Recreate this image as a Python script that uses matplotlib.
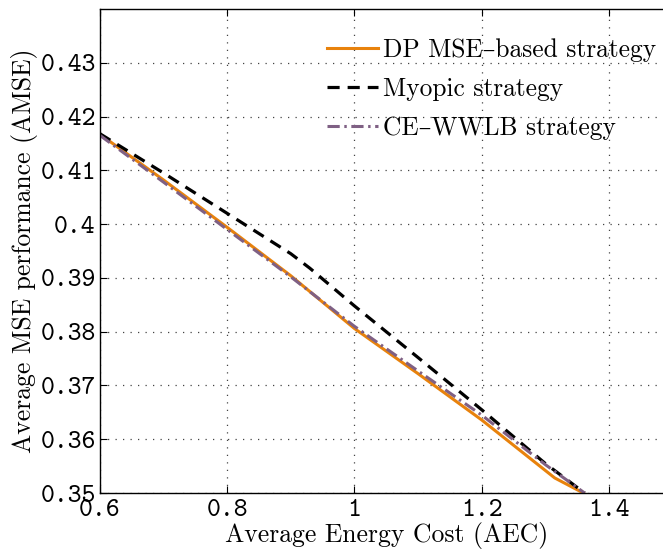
import matplotlib
matplotlib.use('Agg')
import matplotlib.pyplot as plt

# values
aec_dp = [0.6, 0.7, 0.8, 0.9, 1.0, 1.1, 1.2, 1.315, 1.36]
amse_dp = [0.4167, 0.4082, 0.3994, 0.3904, 0.3806, 0.3722, 0.3636, 0.3528, 0.3500]

aec_myopic = [0.6, 0.7, 0.8, 0.9, 0.93, 1.0, 1.1, 1.2, 1.3, 1.362]
amse_myopic = [0.4168, 0.4095, 0.4020, 0.3945, 0.3918, 0.3848, 0.3752, 0.3655, 0.3555, 0.3500]

aec_ce = [0.6, 0.7, 0.8, 0.9, 1.0, 1.1, 1.2, 1.3, 1.362]
amse_ce = [0.4165, 0.4078, 0.3990, 0.3902, 0.3810, 0.3727, 0.3645, 0.3553, 0.3500]

xticks = [0.6, 0.8, 1.0, 1.2, 1.4]
xticklabels = ['0.6', '0.8', '1', '1.2', '1.4']
yticks = [0.35, 0.36, 0.37, 0.38, 0.39, 0.40, 0.41, 0.42, 0.43]
yticklabels = ['0.35', '0.36', '0.37', '0.38', '0.39', '0.4', '0.41', '0.42', '0.43']

serif = ['cmr10', 'DejaVu Serif']
mono = ['cmtt10', 'DejaVu Sans Mono']

fig = plt.figure(figsize=(6.63, 5.5), dpi=100)
ax = fig.add_axes([0.1508, 0.1036, 0.8634, 0.88])

ax.plot(aec_dp, amse_dp, color='#e8820c', lw=2.2, label='DP MSE–based strategy')
ax.plot(aec_myopic, amse_myopic, color='black', lw=2.3, ls=(0, (3.8, 2.5)), label='Myopic strategy')
ax.plot(aec_ce, amse_ce, color='#7f6084', lw=2.2, ls=(0, (4, 1.5, 0.8, 1.5)), label='CE–WWLB strategy')

ax.set_xlim(0.6, 1.5)
ax.set_ylim(0.35, 0.44)
ax.set_xticks(xticks)
ax.set_xticklabels(xticklabels, family=mono, fontsize=19)
ax.set_yticks(yticks)
ax.set_yticklabels(yticklabels, family=mono, fontsize=19)
ax.tick_params(direction='in', length=5, width=0.8, top=True, right=True)
ax.tick_params(axis='x', pad=4)
ax.tick_params(axis='y', pad=3)
ax.grid(True, ls=(0, (1, 5)), lw=0.9, color='#444444')
for s in ax.spines.values():
    s.set_linewidth(1.0)

ax.set_xlabel('Average Energy Cost (AEC)', family=serif, fontsize=18.5, labelpad=0)
ax.set_ylabel('Average MSE performance (AMSE)', family=serif, fontsize=18.5, labelpad=2)

leg = ax.legend(loc='upper left', bbox_to_anchor=(0.357, 0.987), frameon=False,
                prop={'family': serif, 'size': 18.3}, handlelength=2.0,
                handletextpad=0.2, labelspacing=0.6)

fig.savefig('out.png', dpi=100)
